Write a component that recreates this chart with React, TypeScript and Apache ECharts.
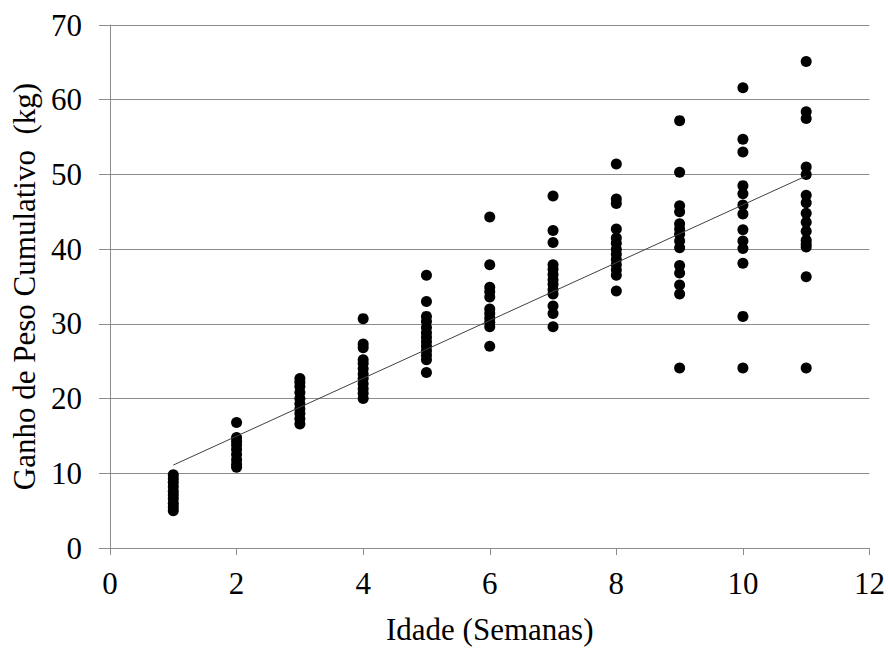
import React, { useEffect, useRef } from "react";
import * as echarts from "echarts";

const weeks = [1, 2, 3, 4, 5, 6, 7, 8, 9, 10, 11];
const gainByWeek: number[][] = [
  [9.8, 9.3, 8.8, 8.2, 7.6, 7.1, 6.6, 6.0, 5.5, 5.0],
  [16.8, 14.8, 14.3, 13.8, 13.2, 12.5, 11.8, 11.2, 10.8],
  [22.7, 22.2, 21.6, 20.8, 20.0, 19.3, 18.6, 18.0, 17.3, 16.6],
  [30.7, 27.3, 26.8, 25.2, 24.7, 24.0, 23.3, 22.7, 22.0, 21.3, 20.7, 20.0],
  [36.5, 33.0, 31.0, 30.3, 29.5, 28.8, 28.2, 27.6, 27.0, 26.4, 25.8, 25.2, 23.5],
  [44.3, 37.9, 34.9, 34.3, 33.6, 32.0, 31.4, 30.8, 30.2, 29.6, 27.0],
  [47.1, 42.5, 40.9, 37.9, 37.3, 36.6, 35.9, 35.3, 34.6, 34.0, 32.4, 31.4, 29.6],
  [51.4, 46.7, 46.1, 42.7, 41.5, 40.8, 40.0, 39.3, 38.6, 37.9, 37.2, 36.5, 34.4],
  [57.2, 50.3, 45.8, 45.0, 43.4, 42.7, 42.0, 41.1, 40.2, 37.8, 36.8, 35.2, 34.0, 24.1],
  [61.6, 54.7, 53.0, 48.5, 47.4, 45.9, 44.7, 42.6, 41.1, 40.1, 38.1, 31.0, 24.1],
  [65.1, 58.4, 57.5, 51.0, 50.0, 47.2, 46.2, 44.8, 43.6, 42.4, 41.2, 40.7, 40.3, 36.3, 24.1],
];
const trendX = [1, 11];
const trendY = [11.1, 49.8];

const xTitle = "Idade (Semanas)";
const yTitle = "Ganho de Peso Cumulativo  (kg)";

export default function App() {
  const ref = useRef<HTMLDivElement>(null);
  useEffect(() => {
    document.body.style.margin = "0";
    if (!ref.current) return;
    const chart = echarts.init(ref.current, undefined, { renderer: "svg" });
    const points: number[][] = [];
    weeks.forEach((w, i) => gainByWeek[i].forEach((v) => points.push([w, v])));
    const font = "'Liberation Serif', 'Times New Roman', serif";
    const grey = "#8c8c8c";
    chart.setOption({
      animation: false,
      backgroundColor: "#ffffff",
      grid: { left: 110, right: 17, top: 25, bottom: 99 },
      xAxis: {
        type: "value",
        min: 0,
        max: 12,
        interval: 2,
        name: xTitle,
        nameLocation: "middle",
        nameGap: 66,
        nameTextStyle: { fontFamily: font, fontSize: 31, color: "#000" },
        axisLine: { onZero: false, lineStyle: { color: grey, width: 1 } },
        axisTick: { show: true, length: 7, lineStyle: { color: grey } },
        axisLabel: { fontFamily: font, fontSize: 31, color: "#000", margin: 20 },
        splitLine: { show: false },
      },
      yAxis: {
        type: "value",
        min: 0,
        max: 70,
        interval: 10,
        name: yTitle,
        nameLocation: "middle",
        nameGap: 66,
        nameTextStyle: { fontFamily: font, fontSize: 31, color: "#000" },
        axisLine: { show: true, lineStyle: { color: grey, width: 1 } },
        axisTick: { show: true, length: 11, lineStyle: { color: grey } },
        axisLabel: { fontFamily: font, fontSize: 31, color: "#000", margin: 28 },
        splitLine: { show: true, lineStyle: { color: grey, width: 1 } },
      },
      series: [
        {
          type: "scatter",
          data: points,
          symbol: "circle",
          symbolSize: 11,
          itemStyle: { color: "#000000", opacity: 1 },
          z: 3,
        },
        {
          type: "line",
          data: trendX.map((x, i) => [x, trendY[i]]),
          showSymbol: false,
          symbol: "none",
          lineStyle: { color: "#404040", width: 1 },
          z: 4,
        },
      ],
    });
    return () => chart.dispose();
  }, []);
  return <div ref={ref} style={{ width: 888, height: 650 }} />;
}
